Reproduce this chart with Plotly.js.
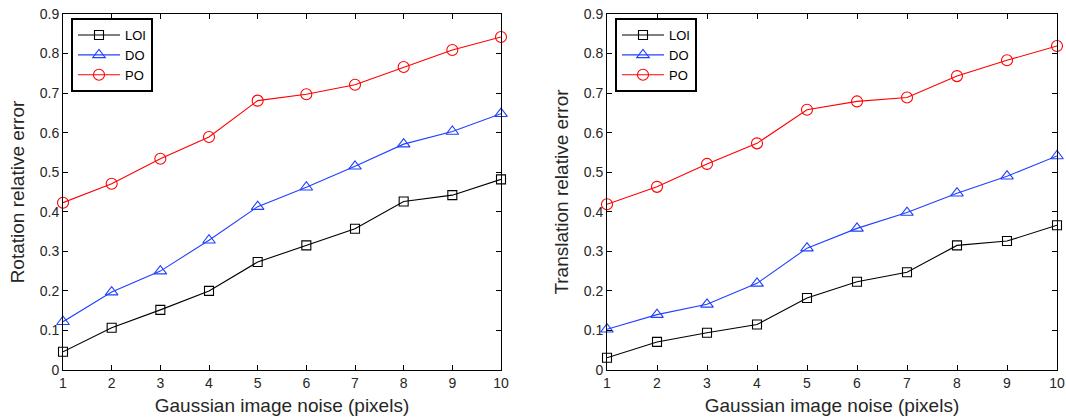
<!DOCTYPE html>
<html>
<head>
<meta charset="utf-8">
<script src="https://cdn.plot.ly/plotly-3.0.1.min.js"></script>
<style>
  html, body { margin: 0; padding: 0; background: #ffffff; }
  #chart { width: 1066px; height: 417px; }
</style>
</head>
<body>
<div id="chart"></div>
<script>
// Gaussian image noise levels (pixels)
const noise = [1, 2, 3, 4, 5, 6, 7, 8, 9, 10];

// Rotation relative error
const rotLOI = [0.046, 0.107, 0.152, 0.200, 0.273, 0.315, 0.357, 0.426, 0.442, 0.482];
const rotDO  = [0.122, 0.197, 0.250, 0.328, 0.413, 0.462, 0.515, 0.571, 0.603, 0.648];
const rotPO  = [0.423, 0.471, 0.534, 0.589, 0.681, 0.697, 0.721, 0.766, 0.809, 0.842];

// Translation relative error
const transLOI = [0.031, 0.071, 0.094, 0.115, 0.182, 0.223, 0.247, 0.315, 0.326, 0.366];
const transDO  = [0.103, 0.140, 0.166, 0.219, 0.308, 0.358, 0.398, 0.447, 0.490, 0.541];
const transPO  = [0.419, 0.463, 0.521, 0.573, 0.658, 0.679, 0.689, 0.743, 0.783, 0.819];

const seriesNames = ['LOI', 'DO', 'PO'];
const xTitle = 'Gaussian image noise (pixels)';
const yTitles = ['Rotation relative error', 'Translation relative error'];

const W = 1066, H = 417;
const FONT = 'Liberation Sans, Arial, sans-serif';
const TXT = '#262626';

const styles = [
  { color: '#000000', symbol: 'square-open', size: 9 },
  { color: '#2040ff', symbol: 'triangle-up-open', size: 11 },
  { color: '#ff0000', symbol: 'circle-open', size: 11 }
];

function makeTraces(ys, xa, ya, legendId) {
  return ys.map((y, i) => ({
    x: noise, y: y, xaxis: xa, yaxis: ya,
    type: 'scatter', mode: 'lines+markers',
    name: seriesNames[i], legend: legendId,
    cliponaxis: false,
    line: { color: styles[i].color, width: 1.1 },
    marker: { symbol: styles[i].symbol, size: styles[i].size,
              color: styles[i].color, line: { color: styles[i].color, width: 1.1 } }
  }));
}

const data = [
  ...makeTraces([rotLOI, rotDO, rotPO], 'x', 'y', 'legend'),
  ...makeTraces([transLOI, transDO, transPO], 'x2', 'y2', 'legend2')
];

function xAxis(domain, anchor) {
  return {
    domain: domain, anchor: anchor, range: [1, 10],
    tickmode: 'array', tickvals: noise, ticktext: noise.map(String),
    ticks: 'inside', ticklen: 5, tickcolor: '#000', mirror: 'ticks',
    showline: true, linecolor: '#000', linewidth: 1, showgrid: false, zeroline: false,
    tickfont: { family: FONT, size: 14, color: TXT },
    title: { text: xTitle, font: { family: FONT, size: 19, color: TXT }, standoff: 8 }
  };
}
function yAxis(domain, anchor, title) {
  return {
    domain: domain, anchor: anchor, range: [0, 0.9], dtick: 0.1, tick0: 0,
    ticks: 'inside', ticklen: 5, tickcolor: '#000', mirror: 'ticks',
    showline: true, linecolor: '#000', linewidth: 1, showgrid: false, zeroline: false,
    tickfont: { family: FONT, size: 14, color: TXT },
    title: { text: title, font: { family: FONT, size: 19, color: TXT }, standoff: 10 }
  };
}

const yDom = [47 / H, 403 / H];
function legendBox(x, y) {
  return {
    x: x, y: y, xanchor: 'left', yanchor: 'top',
    bgcolor: '#ffffff', bordercolor: '#000', borderwidth: 2,
    font: { family: FONT, size: 13, color: '#000' },
    tracegroupgap: 0, itemwidth: 42
  };
}

const layout = {
  width: W, height: H,
  margin: { l: 0, r: 0, t: 0, b: 0 },
  paper_bgcolor: '#ffffff', plot_bgcolor: '#ffffff',
  showlegend: true,
  xaxis: xAxis([63 / W, 501 / W], 'y'),
  yaxis: yAxis(yDom, 'x', yTitles[0]),
  xaxis2: xAxis([607 / W, 1057 / W], 'y2'),
  yaxis2: yAxis(yDom, 'x2', yTitles[1]),
  legend: legendBox(71 / W, 1 - 18 / H),
  legend2: legendBox(615 / W, 1 - 18 / H)
};

Plotly.newPlot('chart', data, layout, { displayModeBar: false, staticPlot: true });
</script>
</body>
</html>
